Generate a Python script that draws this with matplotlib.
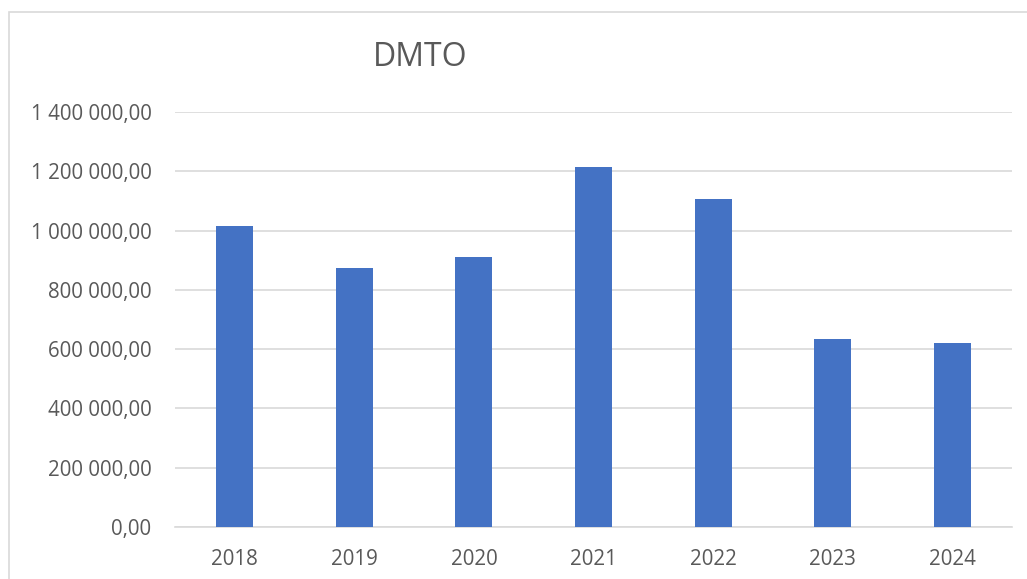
import matplotlib.pyplot as plt
from matplotlib.ticker import FuncFormatter
from matplotlib.patches import Rectangle

years = ['2018', '2019', '2020', '2021', '2022', '2023', '2024']
dmto = [1015000, 873500, 909500, 1215500, 1107500, 634000, 622000]

plt.rcParams['font.family'] = ['Open Sans', 'DejaVu Sans']
txt = '#595959'
grid = '#D9D9D9'


def fr_fmt(v, pos):
    s = '{:,.2f}'.format(v)
    return s.replace(',', ' ').replace('.', ',')


fig = plt.figure(figsize=(10.27, 5.79), dpi=100)
fig.patches.append(Rectangle((9 / 1027, -0.1), 1.2, 1.1 - 12.5 / 579,
                             transform=fig.transFigure, fill=False,
                             edgecolor=grid, linewidth=1.2))

ax = fig.add_axes([175 / 1027, 1 - 527 / 579, (1012 - 175) / 1027, (527 - 112) / 579])
x = range(len(years))
ax.bar(x, dmto, width=0.31, color='#4472C4', zorder=3)

ax.set_xlim(-0.5, len(years) - 0.5)
ax.set_ylim(0, 1400000)
ax.set_yticks(range(0, 1400001, 200000))
ax.yaxis.set_major_formatter(FuncFormatter(fr_fmt))
ax.set_xticks(list(x))
ax.set_xticklabels(years)
ax.grid(axis='y', color=grid, linewidth=1.2, zorder=0)
for side in ['top', 'right', 'left']:
    ax.spines[side].set_visible(False)
ax.spines['bottom'].set_color(grid)
ax.spines['bottom'].set_linewidth(1.2)
ax.tick_params(length=0, labelsize=14.8, labelcolor=txt)
ax.tick_params(axis='y', pad=17)
ax.tick_params(axis='x', pad=16)

fig.text(420 / 1027, 1 - 58 / 579, 'DMTO', fontsize=23, color=txt,
         ha='center', va='center')

fig.savefig('out.png')
